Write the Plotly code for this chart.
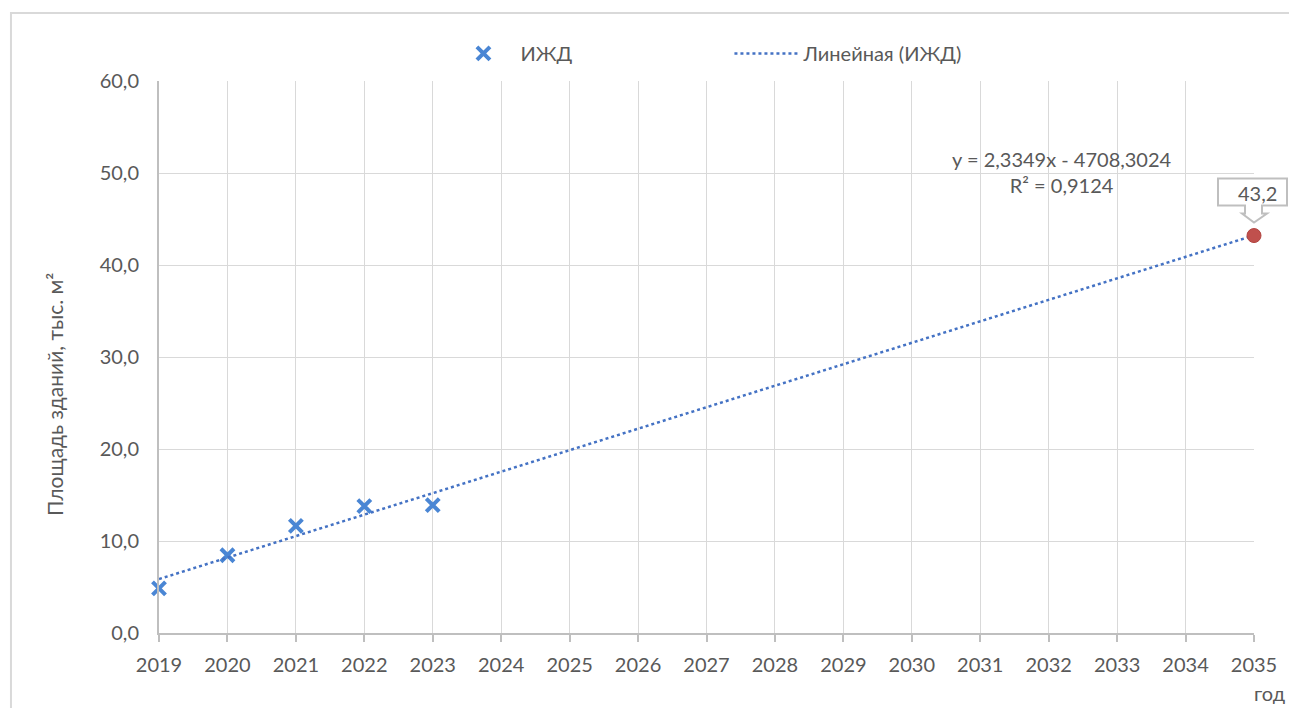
import plotly.graph_objects as go

# ---- data ----
years = [2019, 2020, 2021, 2022, 2023]
izhd = [4.85, 8.45, 11.65, 13.8, 13.9]
trend_slope = 2.3349
trend_intercept = -4708.3024
r_squared = 0.9124
trend_years = list(range(2019, 2036))
forecast_year = 2035
forecast_value = 43.2
y_ticks = [0, 10, 20, 30, 40, 50, 60]
x_ticks = list(range(2019, 2036))

series_name = "ИЖД"
trend_name = "Линейная (ИЖД)"
y_title = "Площадь зданий, тыс. м²"
x_title = "год"

FONT = "Lato"
TXT = "#595959"
GRID = "#d9d9d9"
AXIS = "#bfbfbf"
FS = 20

X_RANGE = [x_ticks[0], x_ticks[-1]]
Y_RANGE = [y_ticks[0], y_ticks[-1]]


def ru(v, nd):
    return f"{v:.{nd}f}".replace(".", ",")


trend_vals = [trend_slope * x + trend_intercept for x in trend_years]

# paper position of the forecast point (for the unclipped callout shape)
fx_paper = (forecast_year - X_RANGE[0]) / (X_RANGE[1] - X_RANGE[0])
fy_paper = (forecast_value - Y_RANGE[0]) / (Y_RANGE[1] - Y_RANGE[0])

fig = go.Figure()
fig.add_trace(go.Scatter(
    x=years, y=izhd, mode="markers", name=series_name,
    marker=dict(symbol="x-thin", size=13, color="#4A86D4", line=dict(width=4, color="#4A86D4")),
    cliponaxis=False,
))
fig.add_trace(go.Scatter(
    x=trend_years, y=trend_vals, mode="lines", name=trend_name,
    line=dict(color="#4472C4", width=2.5, dash="dot"),
    cliponaxis=False,
))
fig.add_trace(go.Scatter(
    x=[forecast_year], y=[forecast_value], mode="markers", showlegend=False,
    marker=dict(symbol="circle", size=14, color="#C0504D", line=dict(color="#B24541", width=1)),
    cliponaxis=False,
))

eq = f"y = {ru(trend_slope, 4)}x - {ru(-trend_intercept, 4)}<br>R² = {ru(r_squared, 4)}"

fig.update_layout(
    width=1281, height=700,
    margin=dict(l=151, r=35, t=73, b=75),
    paper_bgcolor="white", plot_bgcolor="white",
    font=dict(family=FONT, size=FS, color=TXT),
    separators=", ",
    showlegend=True,
    legend=dict(orientation="h", x=0.2625, xanchor="left", y=1.05, yanchor="middle",
                itemwidth=64, entrywidth=204, entrywidthmode="pixels",
                font=dict(family=FONT, size=FS, color=TXT), bgcolor="rgba(0,0,0,0)"),
    xaxis=dict(
        range=X_RANGE, tickvals=x_ticks, ticktext=[str(t) for t in x_ticks],
        showgrid=True, gridcolor=GRID, gridwidth=1,
        showline=True, linecolor=AXIS, linewidth=2,
        ticks="outside", ticklen=7, tickcolor=AXIS, tickwidth=1.5,
        ticklabelstandoff=6, zeroline=False,
        tickfont=dict(family=FONT, size=FS, color=TXT),
    ),
    yaxis=dict(
        range=Y_RANGE, tickvals=y_ticks, ticktext=[ru(v, 1) for v in y_ticks],
        showgrid=True, gridcolor=GRID, gridwidth=1,
        showline=True, linecolor=AXIS, linewidth=2,
        ticks="", ticklabelstandoff=14, zeroline=False,
        tickfont=dict(family=FONT, size=FS, color=TXT),
    ),
    annotations=[
        dict(text=eq, x=2032.2, y=50.1, xref="x", yref="y", showarrow=False,
             align="center", xanchor="center", yanchor="middle",
             font=dict(family=FONT, size=FS, color=TXT)),
        dict(text=ru(forecast_value, 1), x=forecast_year, y=forecast_value, xref="x", yref="y",
             showarrow=False, xshift=3, yshift=43, xanchor="center", yanchor="middle",
             font=dict(family=FONT, size=FS, color=TXT)),
        dict(text=y_title, x=-0.095, y=0.433, xref="paper", yref="paper", showarrow=False,
             textangle=-90, xanchor="center", yanchor="middle",
             font=dict(family=FONT, size=21, color=TXT)),
        dict(text=x_title, x=1.0146, y=-0.134, xref="paper", yref="paper", showarrow=False,
             xanchor="center", yanchor="bottom",
             font=dict(family=FONT, size=FS, color=TXT)),
    ],
    shapes=[
        dict(type="path", xref="paper", yref="paper", xsizemode="pixel", ysizemode="pixel",
             xanchor=fx_paper, yanchor=fy_paper,
             path="M -36,30 L -36,57 L 33,57 L 33,30 L 8,30 L 8,22 L 13,22 L 0,13 L -12,22 L -9,22 L -9,30 Z",
             fillcolor="white", line=dict(color=AXIS, width=2), layer="above"),
        dict(type="path", xref="paper", yref="paper",
             path="M -0.1352,-0.2 L -0.1352,1.1232 L 1.05,1.1232",
             line=dict(color=GRID, width=2), layer="below"),
    ],
)

fig.write_html("out.html")
